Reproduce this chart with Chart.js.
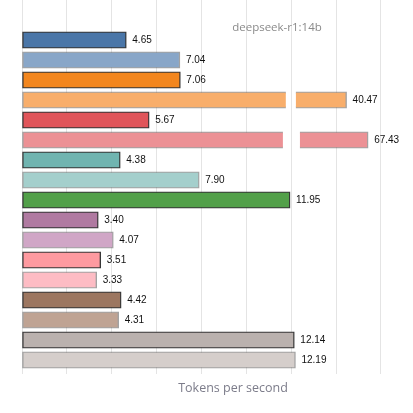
<!DOCTYPE html>
<html>
<head>
<meta charset="utf-8">
<script src="https://cdn.jsdelivr.net/npm/chart.js@4/dist/chart.umd.min.js"></script>
<style>
  html, body { margin: 0; padding: 0; background: #fff; }
  #wrap { width: 413px; height: 413px; }
</style>
</head>
<body>
<div id="wrap"><canvas id="BarChart"></canvas></div>
<script>
// tokens per second, top bar first
var tokensPerSecond = [4.65, 7.04, 7.06, 40.47, 5.67, 67.43, 4.38, 7.90, 11.95,
                       3.40, 4.07, 3.51, 3.33, 4.42, 4.31, 12.14, 12.19];
// amount hidden in the broken part of the axis
var axisCut = [0, 0, 0, 26, 0, 52, 0, 0, 0, 0, 0, 0, 0, 0, 0, 0, 0];
var xTicks = [0, 2, 4, 6, 8, 10, 12, 14, 16];

var barColors = [
  "#4a76a8", "#88a6c8", "#f2861e", "#f8ae6b", "#e0555a", "#ec9195",
  "#70b4b0", "#a4cfcc", "#52a049", "#b07aa1", "#d0a6c6", "#fe9aa0",
  "#fdbcc4", "#9c7660", "#bfa393", "#bab1ae", "#d5cecb"
];
// dark bars get a black edge, their light partners a grey one
var darkBar = [1, 0, 1, 0, 1, 0, 1, 0, 1, 1, 0, 1, 0, 1, 0, 1, 0];
var edgeColors = darkBar.map(function (d) {
  return d ? "rgba(20,20,20,0.85)" : "rgba(70,70,70,0.5)";
});
// where the gap is cut into the long bars (axis units)
var gaps = { 3: [11.76, 12.21], 5: [11.63, 12.39] };

var rows = tokensPerSecond.map(function (v, i) {
  return { x: v - axisCut[i], y: i };
});

var brokenBars = {
  id: "brokenBars",
  beforeDatasetsDraw: function (chart) {
    var ctx = chart.ctx, x = chart.scales.x, y = chart.scales.y, a = chart.chartArea;
    ctx.save();
    ctx.beginPath();
    ctx.rect(a.left, a.top, a.right - a.left, a.bottom - a.top);
    Object.keys(gaps).forEach(function (k) {
      var g = gaps[k];
      var y0 = y.getPixelForValue(+k - 0.5), y1 = y.getPixelForValue(+k + 0.5);
      var x0 = x.getPixelForValue(g[0]), x1 = x.getPixelForValue(g[1]);
      ctx.rect(x0, Math.min(y0, y1), x1 - x0, Math.abs(y1 - y0));
    });
    ctx.clip("evenodd");
  },
  afterDatasetsDraw: function (chart) {
    var ctx = chart.ctx;
    ctx.restore();
    var meta = chart.getDatasetMeta(0);
    ctx.save();
    ctx.font = "10px 'Liberation Sans', Arial, sans-serif";
    ctx.fillStyle = "#111";
    ctx.textBaseline = "middle";
    meta.data.forEach(function (bar, i) {
      ctx.fillText(tokensPerSecond[i].toFixed(2), bar.x + 6, bar.y + 0.5);
    });
    ctx.fillStyle = "#8a8a8a";
    ctx.textAlign = "center";
    ctx.font = "11.5px 'Open Sans', sans-serif";
    ctx.fillText("deepseek-r1:14b", 277, 28);
    ctx.fillStyle = "#7c7c8a";
    ctx.font = "12.5px 'Open Sans', sans-serif";
    ctx.fillText("Tokens per second", 233, 388);
    ctx.restore();
  }
};

new Chart("BarChart", {
  type: "bar",
  data: {
    datasets: [{
      data: rows,
      backgroundColor: barColors,
      borderColor: edgeColors,
      borderWidth: 1.4,
      borderSkipped: false,
      barThickness: 16.5
    }]
  },
  plugins: [brokenBars],
  options: {
    indexAxis: "y",
    responsive: true,
    maintainAspectRatio: false,
    animation: false,
    layout: { padding: { left: 22, top: 0, right: 0, bottom: 39 } },
    plugins: {
      legend: { display: false },
      tooltip: { enabled: false }
    },
    scales: {
      x: {
        type: "linear",
        min: 0,
        max: 17.43,
        afterBuildTicks: function (scale) {
          scale.ticks = xTicks.map(function (v) { return { value: v }; });
        },
        ticks: { display: false },
        border: { display: false },
        grid: { color: "#e4e4e4", lineWidth: 1, drawTicks: false }
      },
      y: {
        type: "linear",
        reverse: true,
        offset: false,
        min: -2,
        max: 16.7,
        display: false
      }
    }
  }
});
</script>
</body>
</html>
